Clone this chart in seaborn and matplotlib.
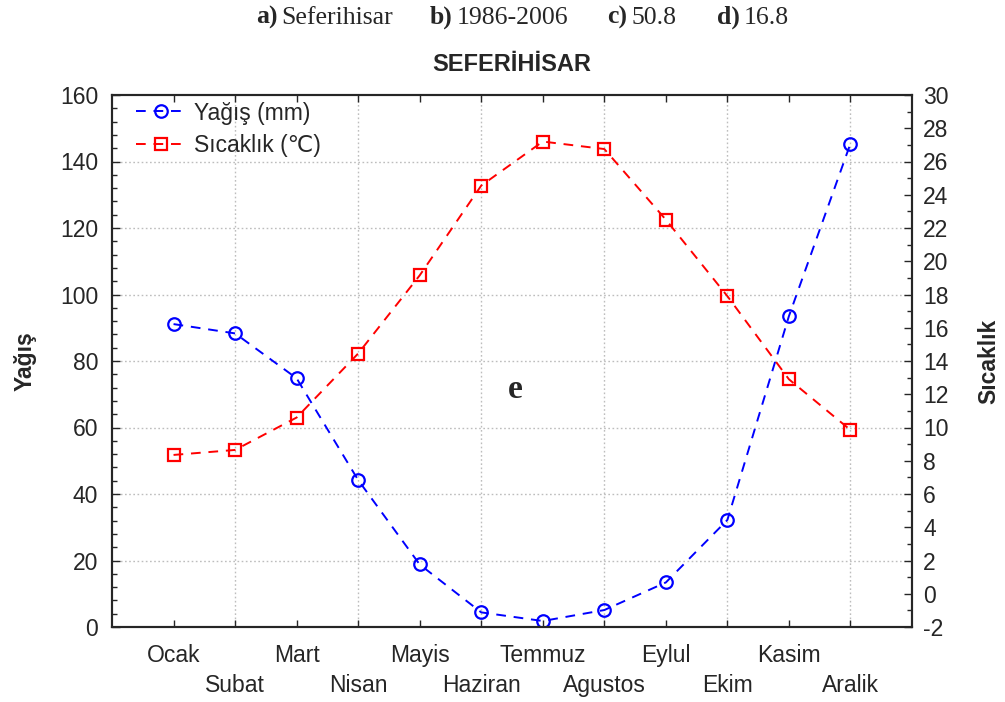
import matplotlib
matplotlib.use("Agg")
import matplotlib.pyplot as plt
from matplotlib.ticker import MultipleLocator
import seaborn as sns
import pandas as pd

months = ["Ocak", "Subat", "Mart", "Nisan", "Mayis", "Haziran",
          "Temmuz", "Agustos", "Eylul", "Ekim", "Kasim", "Aralik"]
precip = [91.1, 88.3, 74.8, 44.2, 18.8, 4.4, 1.8, 5.1, 13.4, 32.2, 93.5, 145.4]
temp = [8.35, 8.65, 10.6, 14.45, 19.15, 24.55, 27.2, 26.75, 22.5, 17.9, 12.9, 9.85]
header = [("a)", "Seferihisar"), ("b)", "1986-2006"), ("c)", "50.8"), ("d)", "16.8")]
title = "SEFERİHİSAR"
left_label = "Yağış"
right_label = "Sıcaklık"
series_names = ["Yağış (mm)", "Sıcaklık (℃)"]

sns.set_theme(style="white")
plt.rcParams["font.family"] = ["Liberation Sans", "DejaVu Sans"]
plt.rcParams["axes.linewidth"] = 1.5
plt.rcParams["axes.unicode_minus"] = False
plt.rcParams["axes.grid"] = False

W, H = 1005, 702
fig = plt.figure(figsize=(W / 100, H / 100), dpi=100)
ax = fig.add_axes([112 / W, 1 - 627 / H, (912 - 112) / W, (627 - 95) / H])
ax2 = ax.twinx()

x = list(range(1, 13))
df = pd.DataFrame({"x": x, "precip": precip, "temp": temp})

blue = "#0000ff"
red = "#ff0000"
sns.lineplot(data=df, x="x", y="precip", ax=ax, color=blue, linestyle=(0, (5, 4)),
             linewidth=1.4, marker="o", markersize=9, markerfacecolor="none",
             markeredgecolor=blue, markeredgewidth=1.6, label=series_names[0], legend=False)
sns.lineplot(data=df, x="x", y="temp", ax=ax2, color=red, linestyle=(0, (5, 4)),
             linewidth=1.4, marker="s", markersize=9, markerfacecolor="none",
             markeredgecolor=red, markeredgewidth=1.6, label=series_names[1], legend=False)

ax.set_xlim(0, 13)
ax.set_ylim(0, 160)
ax2.set_ylim(-2, 30)

fs = 16.5
ax.yaxis.set_major_locator(MultipleLocator(20))
ax.yaxis.set_minor_locator(MultipleLocator(4))
ax2.yaxis.set_major_locator(MultipleLocator(2))
ax2.yaxis.set_minor_locator(MultipleLocator(1))
odd = x[0::2]
even = x[1::2]
ax.set_xticks(odd)
ax.set_xticklabels(months[0::2])
ax.set_xticks(even, minor=True)
ax.set_xticklabels(months[1::2], minor=True)

ax.tick_params(axis="x", which="major", direction="in", top=True, bottom=True,
               length=5, width=1, labelsize=fs, pad=12.5)
ax.tick_params(axis="x", which="minor", direction="in", top=True, bottom=True,
               length=5, width=1, labelsize=fs, pad=34)
ax.tick_params(axis="y", which="major", direction="in", left=True, right=False,
               length=6, width=1, labelsize=fs, pad=10)
ax.tick_params(axis="y", which="minor", direction="in", left=True, right=False,
               length=3.5, width=1)
ax2.tick_params(axis="y", which="major", direction="in", right=True,
                length=6, width=1, labelsize=fs, pad=8)
ax2.tick_params(axis="y", which="minor", direction="in", right=True,
                length=3.5, width=1)
ax.grid(False, which="both")
ax2.grid(False, which="both")

# grid lines (dotted, light gray) at even months and inner y ticks
for gy in range(20, 160, 20):
    ax.axhline(gy, color="#bdbdbd", linestyle=(0, (1.2, 1.8)), linewidth=1, zorder=0)
for gx in even:
    ax.axvline(gx, color="#bdbdbd", linestyle=(0, (1.2, 1.8)), linewidth=1, zorder=0)

ax.set_xlabel("")
ax.set_ylabel(left_label, fontsize=fs, fontweight="bold", labelpad=17)
ax2.set_ylabel(right_label, fontsize=fs, fontweight="bold", labelpad=21, rotation=90)
ax.set_title(title, fontsize=17, fontweight="bold", pad=17)

for s in ax2.spines.values():
    s.set_linewidth(1.5)

handles = ax.get_lines()[:1] + ax2.get_lines()[:1]
leg = ax2.legend(handles, series_names, loc="upper left", frameon=False, fontsize=fs,
                 handlelength=2.2, borderaxespad=0.0, labelspacing=0.4,
                 handletextpad=0.35, bbox_to_anchor=(0.018, 1.005))

# "e" label
ax.text(6.55, 71.3, "e", fontsize=24, fontweight="bold", family="Liberation Serif",
        ha="center", va="center")

# header line
pos = [256, 430, 607, 717]
for (lab, val), px in zip(header, pos):
    t = fig.text(px / W, 1 - 24 / H, lab, fontsize=18.5, fontweight="bold",
                 family="Liberation Serif", ha="left", va="baseline")
    fig.canvas.draw()
    bb = t.get_window_extent()
    fig.text((bb.x1 + 4) / W, 1 - 24 / H, val, fontsize=18.5,
             family="Liberation Serif", ha="left", va="baseline")

fig.savefig("out.png", dpi=100)
